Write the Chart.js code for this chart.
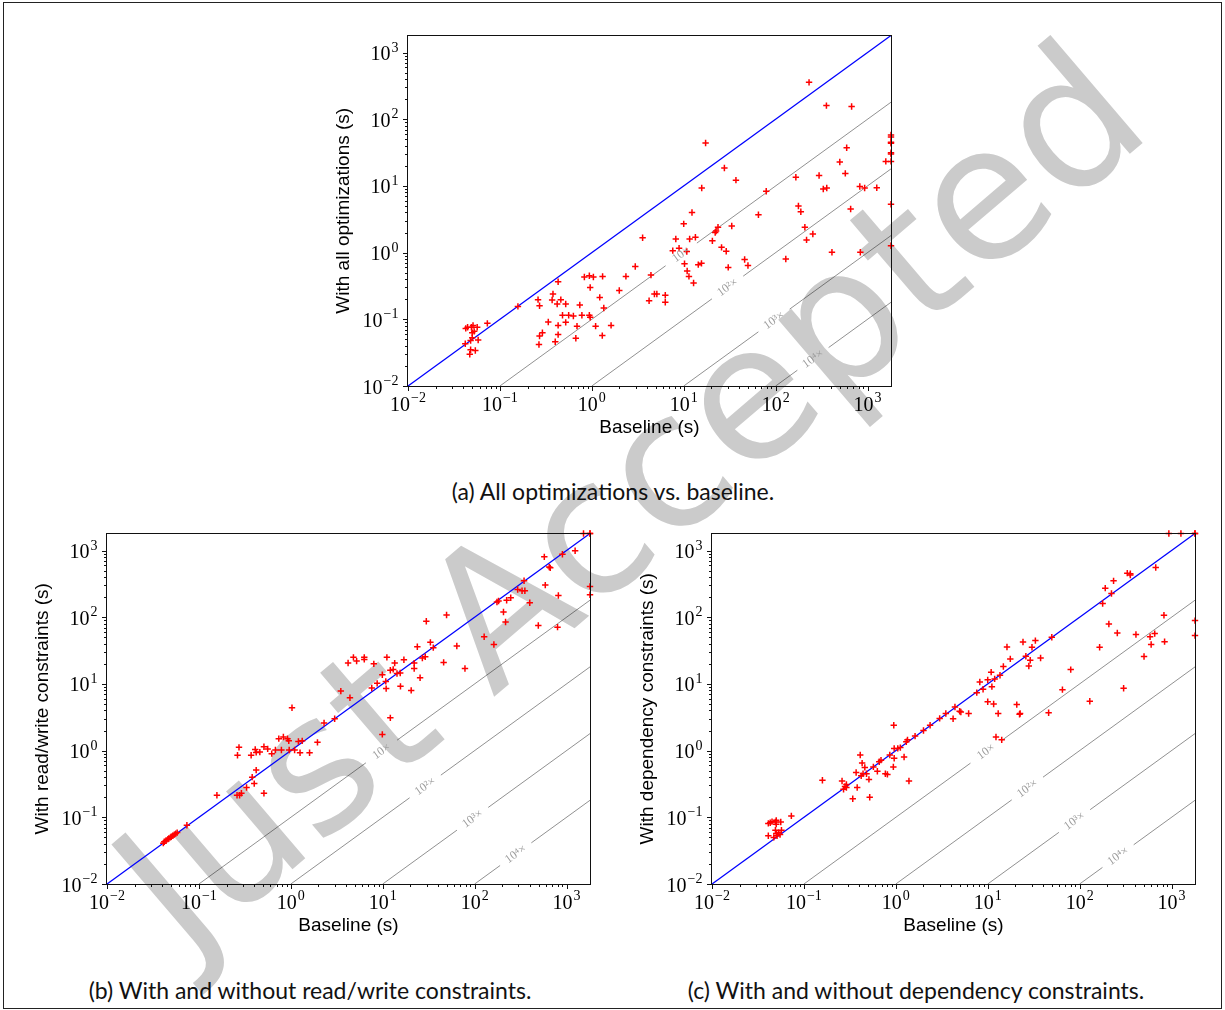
<!DOCTYPE html>
<html>
<head>
<meta charset="utf-8">
<script src="https://cdn.jsdelivr.net/npm/chart.js@4.4.0/dist/chart.umd.min.js"></script>
<style>
  body { margin: 0; background: #fff; width: 1225px; height: 1010px; position: relative; overflow: hidden; }
  #frame { position: absolute; left: 3px; top: 2px; width: 1219px; height: 1007px; border: 1px solid #222; box-sizing: border-box; }
  #mark { position: absolute; left: 186px; top: 802px; font-family: "DejaVu Sans"; font-size: 187px; line-height: 1;
          color: #cbcbcb; white-space: nowrap; transform-origin: 0 158px; transform: rotate(-40.5deg); }
  canvas { position: absolute; }
  .cap { position: absolute; width: 600px; text-align: center; font-family: Lato; font-size: 23px; line-height: 28px; color: #111; }
</style>
</head>
<body>
<div id="frame"></div>
<div id="mark">Just Accepted</div>
<canvas id="chartA" width="571" height="413" style="left:328px; top:30px"></canvas>
<canvas id="chartB" width="571" height="413" style="left:27px; top:528px"></canvas>
<canvas id="chartC" width="571" height="413" style="left:632px; top:528px"></canvas>
<div class="cap" style="left:313px; top:477px">(a) All optimizations vs. baseline.</div>
<div class="cap" style="left:10px; top:976px">(b) With and without read/write constraints.</div>
<div class="cap" style="left:616px; top:976px">(c) With and without dependency constraints.</div>
<script>
// axis range and ticks (seconds, timeout at 1800 s)
var axisMin = 0.01, axisMax = 1800;
var majorTicks = [0.01, 0.1, 1, 10, 100, 1000];
var tickExponents = ['−2', '−1', '0', '1', '2', '3'];

// speedup reference lines
var refFactors = [10, 100, 1000, 10000];
var refLabels = ['10×', '10²×', '10³×', '10⁴×'];

// (a) all optimizations vs baseline
var baseA = [0.042, 0.0425, 0.0445, 0.049, 0.051, 0.050, 0.0525, 0.0566, 0.048, 0.050, 0.058, 0.047, 0.048, 0.054, 0.073,
  0.157, 0.26, 0.27, 0.266, 0.27, 0.29, 0.336, 0.378, 0.37, 0.43, 0.42, 0.43, 0.43, 0.40, 0.46, 0.48, 0.52, 0.52, 0.56,
  0.63, 0.67, 0.69, 0.74, 0.78, 0.83, 0.94, 0.96, 0.94, 0.96, 1.04, 1.1, 1.22, 1.3, 1.31, 1.35, 1.62, 1.99, 2.35, 2.97,
  3.57, 4.2, 4.4, 4.8, 5.1, 6.3, 6.3, 7.6, 8.2, 8.9, 10, 10.2, 10.8, 10.9, 11.4, 11.6, 12.3, 12.8, 13.4, 14.4, 15.6, 15.7,
  17.3, 20.5, 22, 22.5, 23.6, 25.8, 27.7, 29, 30.5, 33.3, 37, 46, 50, 65, 79, 129, 166, 177, 188, 208, 217, 231, 254,
  297, 330, 357, 360, 410, 499, 573, 593, 671, 655, 824, 835, 930, 1260, 1580, 1800, 1800, 1800, 1800, 1800, 1800, 1800,
  1800, 1800];
var optA = [0.043, 0.073, 0.076, 0.076, 0.081, 0.063, 0.066, 0.076, 0.048, 0.053, 0.049, 0.030, 0.035, 0.034, 0.087,
  0.156, 0.197, 0.16, 0.042, 0.056, 0.063, 0.091, 0.239, 0.195, 0.365, 0.17, 0.081, 0.059, 0.046, 0.197, 0.115, 0.17, 0.09, 0.115,
  0.112, 0.052, 0.079, 0.164, 0.115, 0.43, 0.45, 0.30, 0.115, 0.107, 0.43, 0.079, 0.213, 0.057, 0.44, 0.148, 0.081, 0.27, 0.44, 0.62,
  1.67, 0.19, 0.46, 0.24, 0.24, 0.23, 0.18, 1.07, 1.6, 1.16, 2.7, 0.68, 1.04, 0.53, 0.44, 1.6, 4.0, 0.35, 1.7, 0.66, 0.69, 9.3,
  44, 1.5, 2.0, 2.1, 2.4, 1.2, 18.6, 1.05, 0.6, 2.5, 12.2, 0.79, 0.64, 3.7, 8.3, 0.8, 13.5, 5.0, 4.1, 2.4, 1.55, 357, 1.9,
  14.3, 9.0, 160, 9.3, 1.01, 22.8, 15.4, 37.3, 155, 4.5, 9.8, 1.01, 9.3, 9.4, 23.3, 58, 54, 45, 43.5, 31.5, 30, 23.3,
  5.3, 1.27];

// (b) with read/write constraints vs baseline
var baseB = [0.041, 0.042, 0.044, 0.046, 0.047, 0.049, 0.050, 0.052, 0.054, 0.056, 0.058, 0.074, 0.157, 0.263, 0.273,
  0.26, 0.277, 0.29, 0.33, 0.37, 0.38, 0.40, 0.41, 0.42, 0.42, 0.46, 0.51, 0.51, 0.56, 0.62, 0.68, 0.74, 0.79, 0.83, 0.92,
  0.95, 0.96, 1.03, 1.1, 1.21, 1.26, 1.33, 1.6, 1.95, 2.3, 3.0, 3.5, 4.2, 4.4, 4.8, 5.2, 6.3, 6.3, 8.0, 7.6, 8.7, 9.9, 9.9,
  10.8, 11.1, 10.9, 12.1, 12.1, 13.0, 13.5, 14.3, 15.5, 15.6, 17, 20.4, 22, 22, 23.8, 25.5, 27, 29, 29.8, 33, 35.5, 46,
  49.5, 64, 78.5, 127, 162, 175, 182, 206, 217, 223, 247, 294, 328, 345, 352, 398, 493, 573, 587, 648, 665, 798, 815, 902,
  1240, 1530, 1800, 1800, 1800, 1800];
var rwB = [0.041, 0.043, 0.045, 0.047, 0.048, 0.050, 0.051, 0.053, 0.055, 0.057, 0.059, 0.076, 0.214, 0.85, 1.12,
  0.214, 0.214, 0.23, 0.28, 0.85, 0.40, 0.32, 1.04, 0.94, 0.51, 0.95, 1.14, 0.23, 1.06, 0.90, 1.02, 1.51, 1.02, 1.6, 1.51,
  1.4, 1.02, 4.4, 1.02, 1.37, 0.93, 1.4, 0.93, 1.33, 2.6, 3.0, 7.8, 20.6, 6.2, 25, 22, 25, 23.3, 20, 8.7, 10.2, 13.7, 1.75,
  10.9, 25, 8.5, 16, 3.1, 16.5, 20.5, 14.3, 14.6, 9.2, 23, 8.0, 20.5, 17, 36, 12.4, 24.5, 25.5, 87, 42, 35, 21,
  108, 37, 17, 51, 39, 169, 175, 120, 85, 180, 196, 261, 250, 352, 250, 165, 75, 804, 303, 564, 550, 71, 212, 881,
  990, 1800, 1800, 1800, 290, 217];

// (c) with dependency constraints vs baseline
var baseC = [0.041, 0.041, 0.043, 0.045, 0.047, 0.049, 0.050, 0.050, 0.049, 0.050, 0.051, 0.053, 0.056, 0.057, 0.055,
  0.073, 0.159, 0.26, 0.27, 0.28, 0.29, 0.29, 0.34, 0.37, 0.38, 0.41, 0.43, 0.42, 0.44, 0.46, 0.48, 0.51, 0.52, 0.57, 0.63,
  0.66, 0.69, 0.77, 0.81, 0.86, 0.95, 0.94, 0.96, 0.96, 1.05, 1.12, 1.23, 1.30, 1.34, 1.39, 1.62, 2.0, 2.36, 3.0, 3.5, 4.2,
  4.4, 4.95, 5.1, 6.2, 7.6, 8.2, 8.9, 10, 10, 10.9, 11.1, 11.6, 11.9, 12.3, 13.0, 13.6, 14.2, 14.8, 16.2, 17.6, 20.7, 22.2,
  22.5, 24.2, 26, 28, 29, 30.3, 33, 37.6, 49.8, 46, 65, 80, 129, 165, 178, 190, 208, 222, 234, 257, 301, 330, 356, 356,
  410, 502, 584, 600, 656, 673, 827, 840, 935, 1265, 1800, 1800, 1800, 1800];
var depC = [0.053, 0.081, 0.083, 0.086, 0.050, 0.085, 0.090, 0.079, 0.064, 0.057, 0.053, 0.059, 0.085, 0.064, 0.055,
  0.105, 0.36, 0.35, 0.264, 0.29, 0.31, 0.28, 0.19, 0.47, 0.28, 0.86, 0.65, 0.42, 0.45, 0.56, 0.45, 0.37, 0.20, 0.57, 0.49,
  0.68, 0.72, 0.45, 0.44, 0.86, 2.4, 0.57, 0.77, 1.08, 1.08, 1.11, 0.80, 1.36, 1.45, 0.35, 1.65, 2.0, 2.4, 3.04, 3.6, 3.0,
  4.5, 3.9, 3.8, 3.6, 7.4, 10.7, 8.3, 11.5, 5.4, 15, 9.1, 5.0, 11.9, 1.6, 3.6, 13.5, 1.45, 18.2, 35.8, 23.7, 4.9, 3.5,
  3.6, 42.6, 26, 18.6, 22.6, 35.5, 44.6, 24.5, 50, 3.7, 8.2, 16.4, 5.5, 35.5, 161, 273, 79, 227, 351, 58, 8.6, 458, 450, 430,
  55, 25.7, 51, 39, 56.8, 557, 107, 43, 1800, 1800, 1800, 1800, 89, 53];

// where the speedup labels sit along each reference line (baseline seconds)
var labelXA = [9.4, 30, 96, 255];
var labelXB = [9.7, 29, 95, 280];
var labelXC = [9.6, 27, 88, 262];

function allTicks() {
  var t = [];
  majorTicks.forEach(function (m) {
    for (var k = 1; k < 10; k++) {
      var v = m * k;
      if (v <= axisMax) t.push(v);
    }
  });
  return t;
}

function isMajor(v) {
  var l = Math.log10(v);
  return Math.abs(l - Math.round(l)) < 1e-9;
}

// "10" with a raised exponent, like matplotlib's mathtext labels
function powerLabel(ctx, exp, x, y, align) {
  ctx.font = '20px "Liberation Serif"';
  var w1 = ctx.measureText('10').width;
  ctx.font = '14px "Liberation Serif"';
  var w2 = ctx.measureText(exp).width;
  var start = align === 'center' ? x - (w1 + w2 + 1) / 2 : x - (w1 + w2 + 1);
  ctx.font = '20px "Liberation Serif"';
  ctx.fillText('10', start, y);
  ctx.font = '14px "Liberation Serif"';
  ctx.fillText(exp, start + w1 + 1, y - 8.5);
}

// frame, outward tick marks, tick labels and the little "10x" labels
var decor = {
  id: 'decor',
  afterDraw: function (chart, args, opts) {
    var ctx = chart.ctx, a = chart.chartArea, xs = chart.scales.x, ys = chart.scales.y;
    ctx.save();
    ctx.font = '12px "Liberation Serif"';
    ctx.fillStyle = '#9c9c9c';
    ctx.textAlign = 'center';
    ctx.textBaseline = 'middle';
    var ang = Math.atan2(ys.getPixelForValue(10) - ys.getPixelForValue(1), xs.getPixelForValue(10) - xs.getPixelForValue(1));
    refFactors.forEach(function (f, i) {
      var lx = opts.labelX[i];
      ctx.save();
      ctx.translate(xs.getPixelForValue(lx), ys.getPixelForValue(lx / f));
      ctx.rotate(ang);
      ctx.fillText(refLabels[i], 0, 0);
      ctx.restore();
    });

    ctx.strokeStyle = '#111';
    ctx.lineWidth = 1;
    var L = Math.round(a.left) - 0.5, R = Math.round(a.right) + 0.5;
    var T = Math.round(a.top) - 0.5, B = Math.round(a.bottom) + 0.5;
    ctx.strokeRect(L, T, R - L, B - T);
    ctx.beginPath();
    allTicks().forEach(function (v) {
      var len = isMajor(v) ? 4.5 : 2.5;
      var px = Math.round(xs.getPixelForValue(v)) + 0.5;
      ctx.moveTo(px, B); ctx.lineTo(px, B + len);
      var py = Math.round(ys.getPixelForValue(v)) + 0.5;
      ctx.moveTo(L, py); ctx.lineTo(L - len, py);
    });
    ctx.stroke();

    ctx.fillStyle = '#000';
    ctx.textAlign = 'left';
    ctx.textBaseline = 'alphabetic';
    majorTicks.forEach(function (v, i) {
      powerLabel(ctx, tickExponents[i], xs.getPixelForValue(v), B + 24, 'center');
      powerLabel(ctx, tickExponents[i], L - 9, ys.getPixelForValue(v) + 7.5, 'right');
    });
    ctx.restore();
  }
};

function refLine(f, lx) {
  var g = Math.pow(10, 0.17);
  return {
    data: [
      { x: axisMin * f, y: axisMin },
      { x: lx / g, y: lx / g / f },
      { x: lx, y: null },
      { x: lx * g, y: lx * g / f },
      { x: axisMax, y: axisMax / f }
    ],
    showLine: true, spanGaps: false, pointRadius: 0,
    borderColor: 'rgba(0,0,0,0.55)', borderWidth: 0.8
  };
}

function makeChart(id, xs, ys, yTitle, labelX) {
  var pts = xs.map(function (x, i) { return { x: x, y: ys[i] }; });
  var datasets = [{
    data: pts, pointStyle: 'cross', pointRadius: 3.2, borderColor: '#ff0000', backgroundColor: '#ff0000',
    borderWidth: 1.5, clip: 6
  }, {
    data: [{ x: axisMin, y: axisMin }, { x: axisMax, y: axisMax }],
    showLine: true, pointRadius: 0, borderColor: '#0000ff', borderWidth: 1.3
  }];
  refFactors.forEach(function (f, i) { datasets.push(refLine(f, labelX[i])); });

  var titleFont = { family: '"Liberation Sans"', size: 19 };

  return new Chart(document.getElementById(id), {
    type: 'scatter',
    data: { datasets: datasets },
    options: {
      responsive: false,
      animation: false,
      events: [],
      layout: { padding: { left: 0, top: 4, right: 8, bottom: 0 } },
      plugins: { legend: { display: false }, tooltip: { enabled: false }, decor: { labelX: labelX } },
      scales: {
        x: {
          type: 'logarithmic', min: axisMin, max: axisMax,
          afterBuildTicks: function (s) { s.ticks = allTicks().map(function (v) { return { value: v }; }); },
          afterFit: function (s) { s.height = 57; s.paddingLeft = 0; s.paddingRight = 0; },
          grid: { display: false, drawTicks: false },
          border: { display: false },
          ticks: { display: false },
          title: { display: true, text: 'Baseline (s)', color: '#000', font: titleFont, padding: { top: 0, bottom: 4 } }
        },
        y: {
          type: 'logarithmic', min: axisMin, max: axisMax,
          afterBuildTicks: function (s) { s.ticks = allTicks().map(function (v) { return { value: v }; }); },
          afterFit: function (s) { s.width = 80; s.paddingTop = 0; s.paddingBottom = 0; },
          grid: { display: false, drawTicks: false },
          border: { display: false },
          ticks: { display: false },
          title: { display: true, text: yTitle, color: '#000', font: titleFont, padding: { top: 4, bottom: 0 } }
        }
      }
    },
    plugins: [decor]
  });
}

makeChart('chartA', baseA, optA, 'With all optimizations (s)', labelXA);
makeChart('chartB', baseB, rwB, 'With read/write constraints (s)', labelXB);
makeChart('chartC', baseC, depC, 'With dependency constraints (s)', labelXC);
</script>
</body>
</html>
